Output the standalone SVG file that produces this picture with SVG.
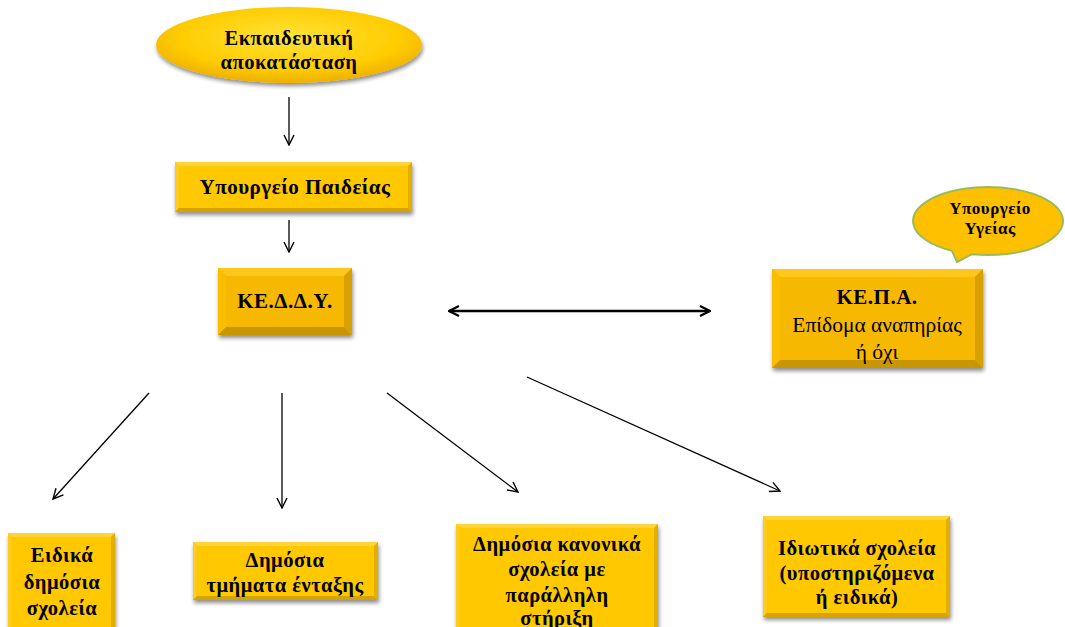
<svg xmlns="http://www.w3.org/2000/svg" width="1065" height="627" viewBox="0 0 1065 627">
<defs>
<style>
.t{font-family:"Liberation Serif","Times New Roman",serif;fill:#000;text-anchor:middle}
.b{font-weight:bold;letter-spacing:0.5px}
.ln{stroke:#000;stroke-width:1.3;fill:none}
.top1{fill:#FFD43A}.left1{fill:#FFCB1A}.right1{fill:#E2AE00}.bot1{fill:#D6A300}.face1{fill:#FFC800}
.top2{fill:#FFC61A}.left2{fill:#FBBD00}.right2{fill:#D8A000}.bot2{fill:#C99600}.face2{fill:#F6B800}
</style>
<filter id="sh" x="-10%" y="-10%" width="125%" height="130%">
<feGaussianBlur in="SourceAlpha" stdDeviation="2"/>
<feOffset dx="1" dy="3" result="o"/>
<feComponentTransfer><feFuncA type="linear" slope="0.45"/></feComponentTransfer>
<feMerge><feMergeNode/><feMergeNode in="SourceGraphic"/></feMerge>
</filter>
<radialGradient id="eg" cx="50%" cy="40%" r="60%">
<stop offset="0" stop-color="#FFE23A"/>
<stop offset="0.7" stop-color="#FFCC00"/>
<stop offset="1" stop-color="#EDB000"/>
</radialGradient>
<marker id="ah" viewBox="0 0 12 12" refX="11" refY="6" markerWidth="12" markerHeight="12" markerUnits="userSpaceOnUse" orient="auto-start-reverse">
<path d="M1,1 L11,6 L1,11" fill="none" stroke="#000" stroke-width="1.4"/>
</marker>
<marker id="ah2" viewBox="0 0 12 12" refX="11" refY="6" markerWidth="12" markerHeight="12" markerUnits="userSpaceOnUse" orient="auto-start-reverse">
<path d="M1,1 L11,6 L1,11" fill="none" stroke="#000" stroke-width="2.2"/>
</marker>
</defs>
<rect width="1065" height="627" fill="#fff"/>

<g id="connectors">
<line class="ln" x1="289" y1="97" x2="289" y2="145" marker-end="url(#ah)"/>
<line class="ln" x1="289" y1="220" x2="289" y2="252" marker-end="url(#ah)"/>
<line class="ln" x1="449" y1="311" x2="710" y2="311" style="stroke-width:2.4" marker-start="url(#ah2)" marker-end="url(#ah2)"/>
<line class="ln" x1="149" y1="393" x2="53" y2="499" marker-end="url(#ah)"/>
<line class="ln" x1="282" y1="393" x2="282" y2="508" marker-end="url(#ah)"/>
<line class="ln" x1="387" y1="393" x2="518" y2="492" marker-end="url(#ah)"/>
<line class="ln" x1="527" y1="377" x2="780" y2="491" marker-end="url(#ah)"/>
</g>

<g id="n-ekpaideutiki">
<ellipse cx="289" cy="45" rx="133" ry="38" fill="url(#eg)" filter="url(#sh)"/>
<text class="t b" x="289" y="45" font-size="20.5">Εκπαιδευτική</text>
<text class="t b" x="289" y="69" font-size="20.5">αποκατάσταση</text>
</g>

<g id="n-ypourgeio-paideias" filter="url(#sh)">
<rect class="face1" x="175" y="162" width="237" height="50"/>
<polygon class="top1" points="175,162 412,162 408,166 179,166"/>
<polygon class="left1" points="175,162 179,166 179,208 175,212"/>
<polygon class="right1" points="412,162 412,212 408,208 408,166"/>
<polygon class="bot1" points="175,212 412,212 408,208 179,208"/>
</g>
<text class="t b" x="295" y="194" font-size="21">Υπουργείο Παιδείας</text>

<g id="n-kedday" filter="url(#sh)">
<rect class="face2" x="218" y="268" width="134" height="67"/>
<polygon class="top2" points="218,268 352,268 344,276 226,276"/>
<polygon class="left2" points="218,268 226,276 226,327 218,335"/>
<polygon class="right2" points="352,268 352,335 344,327 344,276"/>
<polygon class="bot2" points="218,335 352,335 344,327 226,327"/>
</g>
<text class="t b" x="285" y="308" font-size="21">ΚΕ.Δ.Δ.Υ.</text>

<g id="n-kepa" filter="url(#sh)">
<rect class="face2" x="772" y="269" width="211" height="99"/>
<polygon class="top2" points="772,269 983,269 975,277 780,277"/>
<polygon class="left2" points="772,269 780,277 780,360 772,368"/>
<polygon class="right2" points="983,269 983,368 975,360 975,277"/>
<polygon class="bot2" points="772,368 983,368 975,360 780,360"/>
</g>
<g id="n-kepa-text">
<text class="t b" x="877" y="304" font-size="21">ΚΕ.Π.Α.</text>
<text class="t" x="877" y="332" font-size="21.5">Επίδομα αναπηρίας</text>
<text class="t" x="877" y="359" font-size="21.5">ή όχι</text>
</g>

<g id="n-ypourgeio-ygeias">
<path d="M972,254.2 L957,262 L952,250.8 A75,34 0 1,1 972,254.2 Z" fill="#FFC000" stroke="#9BBB59" stroke-width="2"/>
<text class="t b" x="990" y="214" font-size="17">Υπουργείο</text>
<text class="t b" x="990" y="234" font-size="17">Υγείας</text>
</g>

<g id="n-eidika" filter="url(#sh)">
<rect class="face1" x="8" y="533" width="107" height="100"/>
<polygon class="top1" points="8,533 115,533 111,537 12,537"/>
<polygon class="left1" points="8,533 12,537 12,633 8,633"/>
<polygon class="right1" points="115,533 115,633 111,633 111,537"/>
</g>
<g id="n-eidika-text">
<text class="t b" x="62" y="562" font-size="20.5">Ειδικά</text>
<text class="t b" x="62" y="589" font-size="20.5">δημόσια</text>
<text class="t b" x="62" y="615" font-size="20.5">σχολεία</text>
</g>

<g id="n-tmimata" filter="url(#sh)">
<rect class="face1" x="193" y="542" width="185" height="58"/>
<polygon class="top1" points="193,542 378,542 374,546 197,546"/>
<polygon class="left1" points="193,542 197,546 197,596 193,600"/>
<polygon class="right1" points="378,542 378,600 374,596 374,546"/>
<polygon class="bot1" points="193,600 378,600 374,596 197,596"/>
</g>
<g id="n-tmimata-text">
<text class="t b" x="285" y="567" font-size="20.5">Δημόσια</text>
<text class="t b" x="285" y="592" font-size="20.5">τμήματα ένταξης</text>
</g>

<g id="n-kanonika" filter="url(#sh)">
<rect class="face1" x="456" y="524" width="202" height="110"/>
<polygon class="top1" points="456,524 658,524 654,528 460,528"/>
<polygon class="left1" points="456,524 460,528 460,634 456,634"/>
<polygon class="right1" points="658,524 658,634 654,634 654,528"/>
</g>
<g id="n-kanonika-text">
<text class="t b" x="557" y="551" font-size="20.5">Δημόσια κανονικά</text>
<text class="t b" x="557" y="576" font-size="20.5">σχολεία με</text>
<text class="t b" x="557" y="602" font-size="20.5">παράλληλη</text>
<text class="t b" x="557" y="625" font-size="20.5">στήριξη</text>
</g>

<g id="n-idiotika" filter="url(#sh)">
<rect class="face1" x="763" y="516" width="187" height="101"/>
<polygon class="top1" points="763,516 950,516 946,520 767,520"/>
<polygon class="left1" points="763,516 767,520 767,613 763,617"/>
<polygon class="right1" points="950,516 950,617 946,613 946,520"/>
<polygon class="bot1" points="763,617 950,617 946,613 767,613"/>
</g>
<g id="n-idiotika-text">
<text class="t b" x="857" y="555" font-size="20.5">Ιδιωτικά σχολεία</text>
<text class="t b" x="857" y="580" font-size="20.5">(υποστηριζόμενα</text>
<text class="t b" x="857" y="604" font-size="20.5">ή ειδικά)</text>
</g>
</svg>
